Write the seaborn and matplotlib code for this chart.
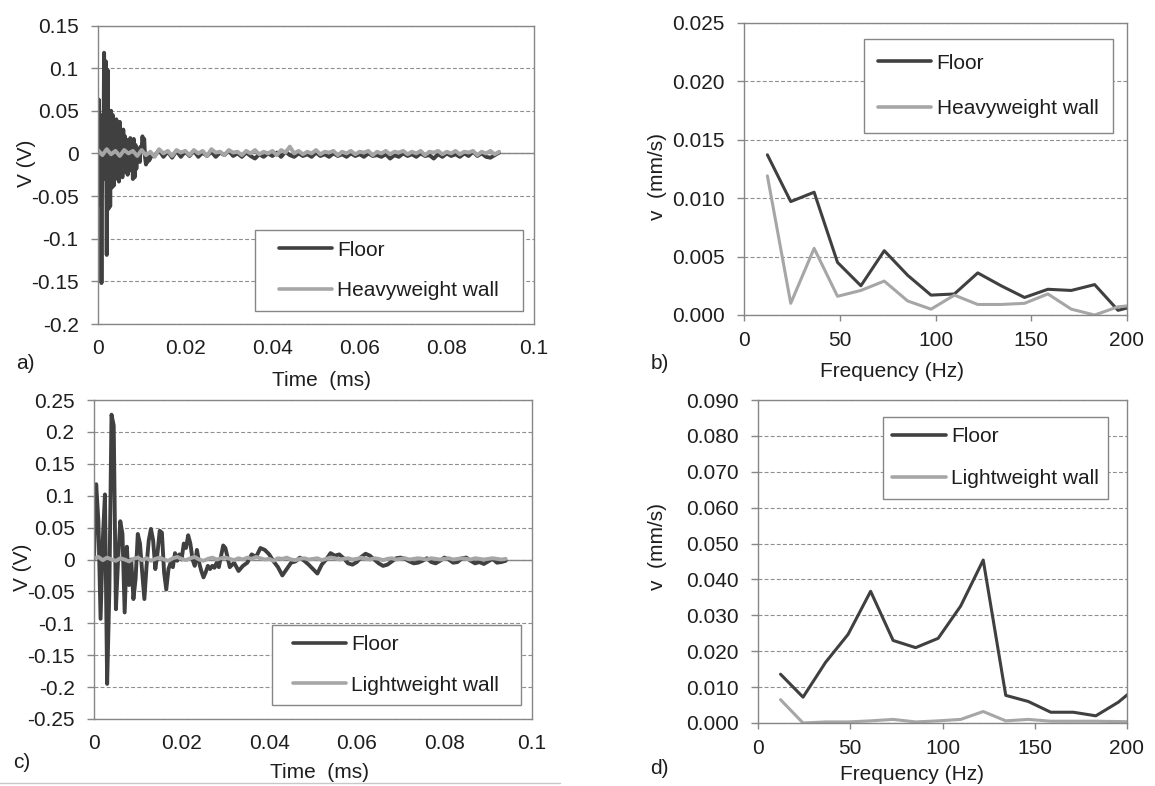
import numpy as np
import matplotlib
matplotlib.use("Agg")
import matplotlib.pyplot as plt
import seaborn as sns
from matplotlib.ticker import FixedLocator, FixedFormatter
from matplotlib.patches import Rectangle
from matplotlib.lines import Line2D

# ---------------- data ----------------
# Panel a: time signal, floor vs heavyweight wall
a_floor_burst = [0.0, 0.063, -0.06, 0.045, -0.152, 0.02, -0.03, 0.118, 0.02, 0.108,
                 -0.119, 0.098, -0.065, 0.05, -0.062, 0.05, -0.04, 0.045, -0.038, 0.035,
                 -0.03, 0.04, -0.02, 0.032, -0.033, 0.037, -0.025, 0.025, -0.028, 0.028,
                 -0.018, 0.02, -0.022, 0.016, -0.025, 0.012, -0.015, 0.018, -0.02, 0.015,
                 -0.03, 0.017, -0.028, 0.01, -0.018, 0.004, -0.008, 0.006, -0.01, 0.008,
                 0.005, 0.02, 0.01, 0.017, -0.005, -0.013, -0.006, -0.01, -0.002, -0.008,
                 -0.004]
a_floor_tail = [-0.003, 0.004, -0.004, 0.002, -0.005, 0.003, -0.004, 0.002, -0.003, 0.003,
                -0.004, 0.001, -0.003, 0.002, -0.004, 0.001, -0.002, 0.003, -0.003, 0.000,
                -0.004, 0.001, -0.003, -0.006, -0.001, -0.004, 0.000, -0.003, 0.001, -0.004,
                0.002, -0.002, -0.004, 0.000, -0.003, -0.001, -0.004, 0.001, -0.003, -0.001,
                -0.004, 0.000, -0.003, -0.001, -0.004, 0.000, -0.003, -0.001, -0.004, 0.000,
                -0.003, -0.002, -0.004, -0.001, -0.006, -0.002, -0.004, 0.000, -0.003, -0.001,
                -0.004, 0.000, -0.003, -0.002, -0.006, -0.001, -0.004, 0.000, -0.003, -0.001,
                -0.004, 0.000, -0.003, 0.002, -0.003, 0.000, -0.004, -0.005, -0.002, 0.001]
a_wall = [0.004, -0.002, 0.005, -0.001, 0.003, -0.003, 0.004, 0.000, 0.003, -0.003,
          0.004, -0.002, 0.002, -0.004, 0.005, 0.000, 0.003, -0.003, 0.004, 0.001,
          0.003, -0.002, 0.004, 0.000, 0.003, -0.003, 0.005, 0.001, 0.002, -0.002,
          0.004, 0.001, 0.002, -0.002, 0.003, 0.000, 0.004, -0.001, 0.002, 0.000,
          0.003, -0.002, 0.004, 0.001, 0.008, 0.000, 0.003, -0.001, 0.002, 0.000,
          0.004, -0.001, 0.002, 0.001, 0.003, -0.002, 0.002, 0.000, 0.003, -0.001,
          0.002, 0.001, 0.003, -0.002, 0.002, 0.000, 0.003, -0.001, 0.002, 0.001,
          0.003, -0.001, 0.002, 0.000, 0.003, -0.002, 0.002, 0.001, 0.003, -0.001,
          0.002, 0.000, 0.003, -0.001, 0.002, 0.001, 0.003, -0.002, 0.002, 0.000,
          0.003, -0.001, 0.002]
a_dt_burst, a_dt_tail, a_tail_start, a_dt_wall = 0.0002, 0.001, 0.013, 0.001

# Panel c: time signal, floor vs lightweight wall
c_floor_early = [0.0, 0.118, 0.06, -0.093, 0.03, 0.102, -0.195, -0.05, 0.227, 0.21,
                 -0.078, 0.0, 0.06, 0.04, -0.083, 0.02, -0.04, 0.0, -0.062, -0.03,
                 0.04, 0.025, -0.02, -0.062, -0.01, 0.03, 0.048, 0.03, -0.015, 0.01,
                 0.045, 0.042, -0.02, -0.047, -0.015, -0.005, -0.012, 0.01, -0.002, 0.008,
                 0.0, 0.025, 0.018, 0.038, 0.025, 0.0, -0.01, 0.015, -0.005, -0.018,
                 -0.028, -0.02, -0.01, -0.015, -0.01, -0.013, -0.005, -0.012, 0.005, 0.022,
                 0.018]
c_floor_late = [-0.012, -0.005, -0.018, -0.01, -0.005, 0.008, 0.004, 0.018, 0.015, 0.008,
                -0.003, -0.012, -0.025, -0.015, -0.005, -0.003, 0.003, -0.002, -0.008, -0.015,
                -0.022, -0.008, 0.0, 0.01, 0.006, 0.008, 0.002, -0.006, -0.008, -0.004,
                0.004, 0.009, 0.006, 0.0, -0.006, -0.01, -0.008, -0.003, 0.002, 0.003,
                0.001, -0.003, -0.006, -0.005, -0.002, 0.002, -0.004, -0.006, -0.002, 0.003,
                0.0, -0.005, -0.004, 0.002, 0.003, -0.002, -0.006, -0.004, -0.007, -0.003,
                0.001, -0.005, -0.004, -0.002]
c_wall = [0.002, 0.004, -0.001, 0.003, 0.000, -0.002, 0.002, 0.000, -0.003, 0.001,
          0.003, -0.001, 0.002, -0.002, 0.001, 0.003, 0.000, -0.002, 0.002, 0.004,
          0.001, -0.001, 0.002, 0.004, 0.000, -0.002, 0.001, 0.003, 0.000, 0.002,
          0.003, 0.001, -0.001, 0.002, 0.000, 0.003, 0.001, 0.004, 0.002, 0.000,
          0.001, -0.002, 0.002, 0.001, 0.003, 0.000, -0.001, 0.001, 0.002, 0.000,
          0.001, 0.002, -0.001, 0.001, 0.003, 0.002, 0.000, 0.001, 0.002, 0.000,
          0.001, 0.003, 0.001, 0.000, 0.002, 0.001, -0.001, 0.001, 0.002, 0.000,
          0.001, 0.002, 0.000, 0.001, 0.002, 0.001, 0.000, 0.002, 0.001, 0.000,
          0.001, 0.002, 0.000, 0.001, 0.002, 0.001, 0.000, 0.002, 0.001, 0.000,
          0.001, 0.002, 0.001, 0.000, 0.001]
c_dt_early, c_dt_late, c_late_start, c_dt_wall = 0.0005, 0.001, 0.031, 0.001

# Panels b and d: spectra
freq = [12.21, 24.41, 36.62, 48.83, 61.04, 73.24, 85.45, 97.66, 109.86, 122.07,
        134.28, 146.48, 158.69, 170.90, 183.11, 195.31, 207.52]
b_floor = [0.0137, 0.0097, 0.0105, 0.0045, 0.0025, 0.0055, 0.0034, 0.0017, 0.0018, 0.0036,
           0.0025, 0.0015, 0.0022, 0.0021, 0.0026, 0.0004, 0.0009]
b_wall = [0.0119, 0.0010, 0.0057, 0.0016, 0.0021, 0.0029, 0.0012, 0.0005, 0.0017, 0.0009,
          0.0009, 0.0010, 0.0018, 0.0005, 0.0000, 0.0007, 0.0009]
d_floor = [0.0136, 0.0072, 0.0169, 0.0247, 0.0367, 0.0230, 0.0210, 0.0236, 0.0326, 0.0454,
           0.0077, 0.0060, 0.0030, 0.0030, 0.0020, 0.0058, 0.0110]
d_wall = [0.0065, 0.0000, 0.0003, 0.0003, 0.0006, 0.0010, 0.0003, 0.0006, 0.0010, 0.0032,
          0.0006, 0.0010, 0.0005, 0.0005, 0.0005, 0.0004, 0.0003]

# Tick labels
a_yticks = [-0.2, -0.15, -0.1, -0.05, 0, 0.05, 0.1, 0.15]
a_ylabels = ["-0.2", "-0.15", "-0.1", "-0.05", "0", "0.05", "0.1", "0.15"]
c_yticks = [-0.25, -0.2, -0.15, -0.1, -0.05, 0, 0.05, 0.1, 0.15, 0.2, 0.25]
c_ylabels = ["-0.25", "-0.2", "-0.15", "-0.1", "-0.05", "0", "0.05", "0.1", "0.15", "0.2", "0.25"]
t_xticks = [0, 0.02, 0.04, 0.06, 0.08, 0.1]
t_xlabels = ["0", "0.02", "0.04", "0.06", "0.08", "0.1"]
b_yticks = [0, 0.005, 0.010, 0.015, 0.020, 0.025]
b_ylabels = ["0.000", "0.005", "0.010", "0.015", "0.020", "0.025"]
d_yticks = [0, 0.01, 0.02, 0.03, 0.04, 0.05, 0.06, 0.07, 0.08, 0.09]
d_ylabels = ["0.000", "0.010", "0.020", "0.030", "0.040", "0.050", "0.060", "0.070", "0.080", "0.090"]
f_xticks = [0, 50, 100, 150, 200]
f_xlabels = ["0", "50", "100", "150", "200"]

# ---------------- style ----------------
sns.set_style("white")
plt.rcParams["font.family"] = ["Liberation Sans", "DejaVu Sans"]
plt.rcParams["axes.unicode_minus"] = False

DARK = "#404040"
LIGHT = "#a6a6a6"
FRAME = "#868686"
TXT = "#1e1e1e"
FS = 15
LW = 2.2
LW_T = 2.8

W, H = 1155, 786
fig = plt.figure(figsize=(W / 100, H / 100), dpi=100)


def px_axes(l, t, r, b):
    return fig.add_axes([l / W, 1 - b / H, (r - l) / W, (b - t) / H])


def style(ax, xt, xl, yt, yl, xlim, ylim, time_axis):
    ax.set_xlim(*xlim)
    ax.set_ylim(*ylim)
    ax.xaxis.set_major_locator(FixedLocator(xt))
    ax.xaxis.set_major_formatter(FixedFormatter(xl))
    ax.yaxis.set_major_locator(FixedLocator(yt))
    ax.yaxis.set_major_formatter(FixedFormatter(yl))
    ax.set_axisbelow(True)
    ax.grid(True, axis="y", linestyle=(0, (3.5, 2)), color="#8f8f8f", linewidth=0.8)
    ax.grid(False, axis="x")
    for s in ax.spines.values():
        s.set_visible(True)
        s.set_color(FRAME)
        s.set_linewidth(1.0)
    ax.tick_params(axis="y", direction="out", length=5, width=1, color=FRAME,
                   pad=9, labelsize=FS, labelcolor=TXT, left=True)
    if time_axis:
        ax.tick_params(axis="x", length=0, pad=10.5, labelsize=FS, labelcolor=TXT, bottom=True)
        ax.axhline(0, color=FRAME, linewidth=1.0, zorder=1.5)
    else:
        ax.tick_params(axis="x", direction="out", length=4, width=1, color=FRAME,
                       pad=7.5, labelsize=FS, labelcolor=TXT, bottom=True)
    ax.set_xlabel("")
    ax.set_ylabel("")


def legend_box(ax, l, t, r, b, axpx, spacing):
    al, at, ar, ab = axpx
    x0 = (l - al) / (ar - al)
    y0 = (ab - b) / (ab - at)
    w = (r - l) / (ar - al)
    h = (b - t) / (ab - at)
    rect = Rectangle((x0, y0), w, h, transform=ax.transAxes, facecolor="white",
                     edgecolor=FRAME, linewidth=1.0, zorder=4, clip_on=False)
    ax.add_patch(rect)
    leg = ax.legend(loc="center", bbox_to_anchor=(x0 + w / 2, y0 + h / 2),
                    bbox_transform=ax.transAxes, frameon=False, fontsize=FS,
                    borderpad=0, borderaxespad=0, handlelength=2.55,
                    handletextpad=0.25, labelspacing=spacing)
    leg.set_zorder(5)
    for txt in leg.get_texts():
        txt.set_color(TXT)
    for ln in leg.get_lines():
        ln.set_linewidth(2.6)


# ---------- panel a ----------
A = (98, 25.5, 534, 324)
ax_a = px_axes(*A)
t_a_floor = np.concatenate([np.arange(len(a_floor_burst)) * a_dt_burst,
                            a_tail_start + np.arange(len(a_floor_tail)) * a_dt_tail])
v_a_floor = np.array(a_floor_burst + a_floor_tail)
t_a_wall = np.arange(len(a_wall)) * a_dt_wall
sns.lineplot(x=t_a_floor, y=v_a_floor, ax=ax_a, color=DARK, linewidth=LW_T,
             estimator=None, sort=False, label="Floor")
sns.lineplot(x=t_a_wall, y=np.array(a_wall), ax=ax_a, color=LIGHT, linewidth=LW_T,
             estimator=None, sort=False, label="Heavyweight wall")
style(ax_a, t_xticks, t_xlabels, a_yticks, a_ylabels, (0, 0.1), (-0.2, 0.15), True)
legend_box(ax_a, 255, 230, 523, 310.7, A, 1.03)

# ---------- panel b ----------
B = (744, 22.7, 1127, 315)
ax_b = px_axes(*B)
sns.lineplot(x=freq, y=b_floor, ax=ax_b, color=DARK, linewidth=LW,
             estimator=None, sort=False, label="Floor")
sns.lineplot(x=freq, y=b_wall, ax=ax_b, color=LIGHT, linewidth=LW,
             estimator=None, sort=False, label="Heavyweight wall")
style(ax_b, f_xticks, f_xlabels, b_yticks, b_ylabels, (0, 200), (0, 0.025), False)
legend_box(ax_b, 863.7, 39.3, 1113, 132.7, B, 1.27)

# ---------- panel c ----------
C = (94, 400, 532, 719)
ax_c = px_axes(*C)
t_c_floor = np.concatenate([np.arange(len(c_floor_early)) * c_dt_early,
                            c_late_start + np.arange(len(c_floor_late)) * c_dt_late])
v_c_floor = np.array(c_floor_early + c_floor_late)
t_c_wall = np.arange(len(c_wall)) * c_dt_wall
sns.lineplot(x=t_c_floor, y=v_c_floor, ax=ax_c, color=DARK, linewidth=LW_T,
             estimator=None, sort=False, label="Floor")
sns.lineplot(x=t_c_wall, y=np.array(c_wall), ax=ax_c, color=LIGHT, linewidth=LW_T,
             estimator=None, sort=False, label="Lightweight wall")
style(ax_c, t_xticks, t_xlabels, c_yticks, c_ylabels, (0, 0.1), (-0.25, 0.25), True)
legend_box(ax_c, 272, 625, 520.5, 705, C, 1.03)

# ---------- panel d ----------
D = (758, 400, 1127, 723)
ax_d = px_axes(*D)
sns.lineplot(x=freq, y=d_floor, ax=ax_d, color=DARK, linewidth=LW,
             estimator=None, sort=False, label="Floor")
sns.lineplot(x=freq, y=d_wall, ax=ax_d, color=LIGHT, linewidth=LW,
             estimator=None, sort=False, label="Lightweight wall")
style(ax_d, f_xticks, f_xlabels, d_yticks, d_ylabels, (0, 200), (0, 0.09), False)
legend_box(ax_d, 882.7, 416.7, 1108.4, 498.7, D, 1.1)

# ---------- axis titles and panel letters ----------
def ftext(x, y, s, rot=0):
    fig.text(x / W, 1 - y / H, s, ha="center", va="center", rotation=rot,
             fontsize=FS, color=TXT)

ftext(27, 163, "V (V)", 90)
ftext(23, 567, "V (V)", 90)
ftext(657.7, 177, "v  (mm/s)", 90)
ftext(657.7, 547, "v  (mm/s)", 90)
ftext(321, 380, "Time  (ms)")
ftext(319.5, 773, "Time  (ms)")
ftext(891.7, 371.7, "Frequency (Hz)")
ftext(912.5, 775, "Frequency (Hz)")
ftext(25, 363, "a)")
ftext(660, 363, "b)")
ftext(21.5, 763, "c)")
ftext(659.5, 768, "d)")

fig.add_artist(Line2D([0, 560 / W], [1 - 783 / H, 1 - 783 / H], transform=fig.transFigure,
                      color="#c8c8c8", linewidth=1.0))

fig.savefig("out.png", dpi=100)
